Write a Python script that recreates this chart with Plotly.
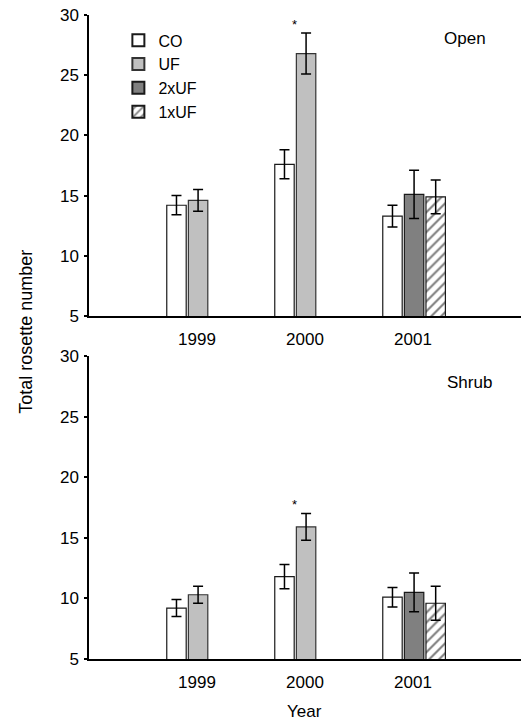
import plotly.graph_objects as go

years = ["1999", "2000", "2001"]

# Open habitat
open_co = [14.2, 17.6, 13.3]
open_co_err = [0.8, 1.2, 0.9]
open_uf_years = ["1999", "2000"]
open_uf = [14.6, 26.8]
open_uf_err = [0.9, 1.7]
open_2x_years = ["2001"]
open_2x = [15.1]
open_2x_err = [2.0]
open_1x_years = ["2001"]
open_1x = [14.9]
open_1x_err = [1.4]

# Shrub habitat
shrub_co = [9.2, 11.8, 10.1]
shrub_co_err = [0.7, 1.0, 0.8]
shrub_uf = [10.3, 15.9]
shrub_uf_err = [0.7, 1.1]
shrub_2x = [10.5]
shrub_2x_err = [1.6]
shrub_1x = [9.6]
shrub_1x_err = [1.4]

y_ticks = [5, 10, 15, 20, 25, 30]
series_names = ["CO", "UF", "2xUF", "1xUF"]

FONT = "Liberation Sans, Arial, Helvetica, sans-serif"
BW = 0.18
offsets = {"CO": -0.28, "UF": -0.08, "2xUF": -0.08, "1xUF": 0.12}
line = dict(color="#1a1a1a", width=1.2)
err_style = dict(type="data", visible=True, color="#000000", thickness=1.5, width=5)

styles = {
    "CO": dict(color="#ffffff", line=line),
    "UF": dict(color="#c0c0c0", line=dict(color="#333333", width=1.2)),
    "2xUF": dict(color="#808080", line=line),
    "1xUF": dict(color="#ffffff", line=line,
                 pattern=dict(shape="/", fgcolor="#000000", bgcolor="#ffffff",
                              size=7, solidity=0.3)),
}

fig = go.Figure()

panels = [
    ("x", "y", True, [
        ("CO", years, open_co, open_co_err),
        ("UF", open_uf_years, open_uf, open_uf_err),
        ("2xUF", open_2x_years, open_2x, open_2x_err),
        ("1xUF", open_1x_years, open_1x, open_1x_err),
    ]),
    ("x2", "y2", False, [
        ("CO", years, shrub_co, shrub_co_err),
        ("UF", open_uf_years, shrub_uf, shrub_uf_err),
        ("2xUF", open_2x_years, shrub_2x, shrub_2x_err),
        ("1xUF", open_1x_years, shrub_1x, shrub_1x_err),
    ]),
]

for xa, ya, show, traces in panels:
    for name, xs, vals, errs in traces:
        fig.add_trace(go.Bar(
            name=name, x=xs, y=vals, xaxis=xa, yaxis=ya,
            width=BW, offset=offsets[name],
            marker=styles[name],
            error_y=dict(array=errs, **err_style),
            showlegend=show, legendgroup=name,
        ))

axis_common = dict(
    showline=True, linecolor="#000000", linewidth=1.5,
    showgrid=False, zeroline=False, mirror=False,
    tickfont=dict(family=FONT, size=17, color="#000000"),
)

fig.update_layout(
    width=523, height=725,
    margin=dict(l=89, r=2, t=15, b=66),
    paper_bgcolor="#ffffff", plot_bgcolor="#ffffff",
    barmode="overlay",
    font=dict(family=FONT, size=17, color="#000000"),
    xaxis=dict(domain=[0, 1], anchor="y", type="category",
               categoryorder="array", categoryarray=years,
               range=[-1, 3], ticks="", ticklabelstandoff=7, **axis_common),
    yaxis=dict(domain=[0.5326, 1.0], anchor="x", range=[5, 30],
               tickvals=y_ticks, ticks="outside", ticklen=3, tickwidth=1.5,
               tickcolor="#000000", ticklabelstandoff=2, **axis_common),
    xaxis2=dict(domain=[0, 1], anchor="y2", type="category",
                categoryorder="array", categoryarray=years,
                range=[-1, 3], ticks="", ticklabelstandoff=7, **axis_common),
    yaxis2=dict(domain=[0, 0.4705], anchor="x2", range=[5, 30],
                tickvals=y_ticks, ticks="outside", ticklen=3, tickwidth=1.5,
                tickcolor="#000000", ticklabelstandoff=2, **axis_common),
    legend=dict(x=0.068, y=0.987, xanchor="left", yanchor="top",
                bgcolor="rgba(0,0,0,0)", font=dict(family=FONT, size=16),
                tracegroupgap=0, itemsizing="constant"),
)

# significance stars above UF bars in 2000
star_offset = 0.75
ann_common = dict(showarrow=False, xanchor="center", yanchor="middle")
fig.add_annotation(x=0.9, y=open_uf[1] + open_uf_err[1] + star_offset,
                   xref="x", yref="y", text="*",
                   font=dict(family=FONT, size=13), **ann_common)
fig.add_annotation(x=0.9, y=shrub_uf[1] + shrub_uf_err[1] + star_offset,
                   xref="x2", yref="y2", text="*",
                   font=dict(family=FONT, size=13), **ann_common)

fig.add_annotation(x=0.870, y=0.964, xref="paper", yref="paper", text="Open",
                   font=dict(family=FONT, size=17), **ann_common)
fig.add_annotation(x=0.880, y=0.430, xref="paper", yref="paper", text="Shrub",
                   font=dict(family=FONT, size=17), **ann_common)
fig.add_annotation(x=-0.146, y=0.508, xref="paper", yref="paper",
                   text="Total rosette number", textangle=-90,
                   font=dict(family=FONT, size=18), **ann_common)
fig.add_annotation(x=0.498, y=-0.082, xref="paper", yref="paper", text="Year",
                   font=dict(family=FONT, size=17), **ann_common)

fig.write_html("out.html", config={"displayModeBar": False},
               post_script="document.body.style.margin='0';document.body.style.padding='0';")
